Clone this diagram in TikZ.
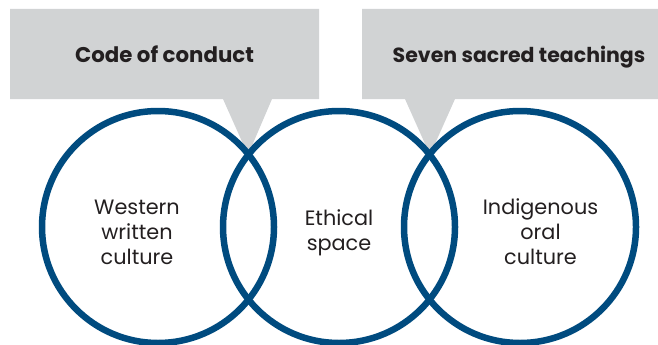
\documentclass[tikz,border=0pt]{standalone}
\usepackage{fontspec}
\setmainfont{Poppins}
\definecolor{ringblue}{RGB}{0,75,127}
\definecolor{calloutgray}{RGB}{209,211,212}
\definecolor{inktext}{RGB}{35,31,32}
\begin{document}
\begin{tikzpicture}[x=1pt,y=-1pt,
  ring/.style={circle,draw=ringblue,line width=6.5pt,minimum size=232pt,inner sep=0pt},
  callout/.style={fill=calloutgray,draw=none},
  titletext/.style={font=\fontsize{21}{25}\selectfont\bfseries,text=inktext,inner sep=0pt,anchor=base},
  ringtext/.style={font=\fontsize{20.8}{25}\selectfont,text=inktext,align=center,inner sep=0pt}]
\useasboundingbox (0,0) rectangle (658,345);
% callouts
\coordinate (tipA) at (248,155);
\coordinate (tipB) at (430,155);
\fill[callout] (10,9) -- (319,9) -- (319,99) -- (272,99) -- (tipA) -- (223,99) -- (10,99) -- cycle;
\fill[callout] (362,9) -- (658,9) -- (658,99) -- (455,99) -- (tipB) -- (405,99) -- (362,99) -- cycle;
\node[titletext,font=\fontsize{21.3}{25}\selectfont\bfseries] (conduct) at (164.5,62.5) {Code of conduct};
\node[titletext,font=\fontsize{20.5}{25}\selectfont\bfseries] (sacred) at (519,62.5) {Seven sacred teachings};
% rings
\node[ring] (west) at (158,227) {};
\node[ring] (ethic) at (339,227) {};
\node[ring] (indig) at (520,227) {};
% ring texts
\node[ringtext] (westtext) at (137,232) {Western\\written\\culture};
\node[ringtext] (ethictext) at (339,233) {Ethical\\space};
\node[ringtext] (indigtext) at (540.5,232) {Indigenous\\oral\\culture};
\end{tikzpicture}
\end{document}
